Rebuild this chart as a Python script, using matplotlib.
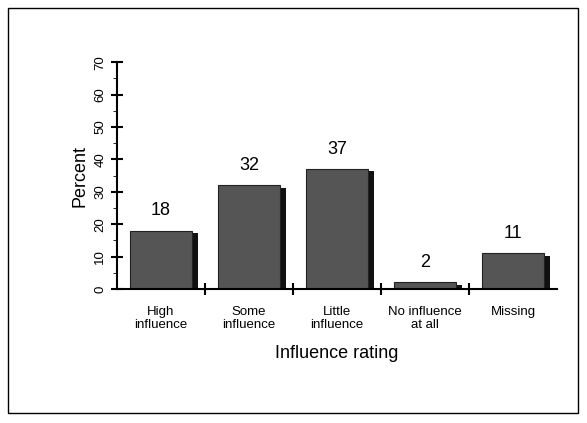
import matplotlib
matplotlib.use("Agg")
import matplotlib.pyplot as plt
from matplotlib.patches import Rectangle

categories = ["High\ninfluence", "Some\ninfluence", "Little\ninfluence", "No influence\nat all", "Missing"]
values = [18, 32, 37, 2, 11]

fig = plt.figure(figsize=(5.87, 4.23), dpi=100)
plt.rcParams['font.family'] = ['Liberation Sans', 'DejaVu Sans']
fig.patches.append(Rectangle((0.014, 0.024), 0.97, 0.957, transform=fig.transFigure,
                             fill=False, edgecolor='black', linewidth=1))
ax = fig.add_axes([0.199, 0.317, 0.75, 0.536])
x = list(range(len(values)))
w = 0.7
ax.bar([i + 0.07 for i in x], [v - 0.7 for v in values], width=w, bottom=0, color='#111111', zorder=1)
ax.bar(x, values, width=w, color='#555555', edgecolor='#222222', linewidth=0.8, zorder=2)
for i, v in zip(x, values):
    ax.text(i, v + 3.5, str(v), ha='center', va='bottom', fontsize=13)
ax.set_xlim(-0.5, len(values) - 0.5)
ax.set_ylim(0, 70)
ax.set_yticks(range(0, 71, 10))
ax.set_yticks(range(5, 70, 10), minor=True)
ax.set_xticks([i + 0.5 for i in x[:-1]])
ax.set_xticklabels([])
ax.set_xticks(x, minor=True)
ax.set_xticklabels(categories, minor=True, fontsize=9.5)
ax.tick_params(axis='x', which='minor', length=0, pad=12)
ax.tick_params(axis='x', which='major', direction='inout', length=8, width=1.5)
ax.tick_params(axis='y', which='major', direction='inout', length=8, width=1.5, labelsize=9.5)
ax.tick_params(axis='y', which='minor', direction='out', length=3)
for lab in ax.get_yticklabels():
    lab.set_rotation(90)
    lab.set_va('center')
for s in ['top', 'right']:
    ax.spines[s].set_visible(False)
for s in ['left', 'bottom']:
    ax.spines[s].set_linewidth(1.5)
ax.set_ylabel("Percent", fontsize=13, labelpad=4)
ax.set_xlabel("Influence rating", fontsize=13, labelpad=10)
fig.savefig("out.png", dpi=100)
